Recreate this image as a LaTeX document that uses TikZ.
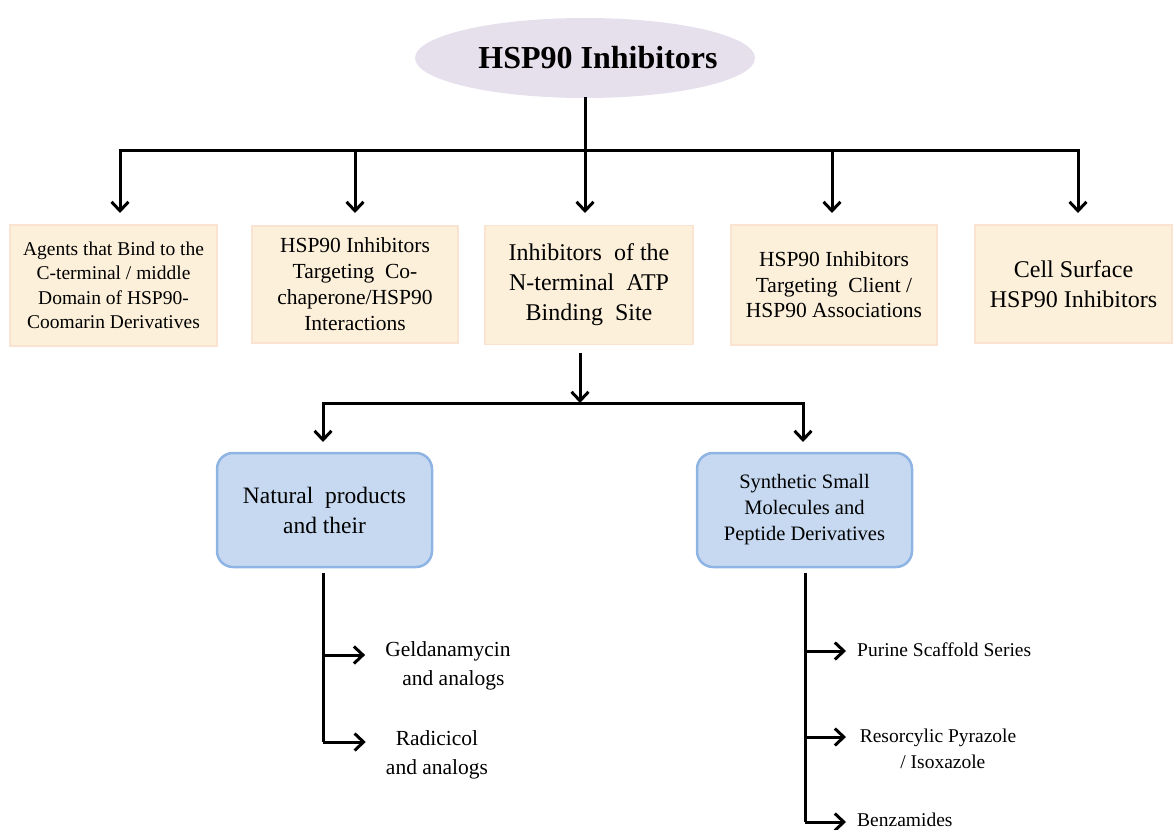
\documentclass[tikz,border=0pt]{standalone}
\usepackage{fontspec}
\setmainfont{Liberation Serif}
\usetikzlibrary{arrows.meta,shapes.geometric}
\definecolor{wheatfill}{HTML}{FCF0DA}
\definecolor{wheatline}{HTML}{FBE3D2}
\definecolor{bluefill}{HTML}{C6D9F1}
\definecolor{blueline}{HTML}{8EB4E3}
\definecolor{lilac}{HTML}{E6E0EC}

\begin{document}
\begin{tikzpicture}[x=1pt,y=-1pt,
    conn/.style={line width=3pt,line cap=rect},
    arr/.style={line width=3pt,-{Straight Barb[length=9pt,width=17pt]}},
    group/.style={draw=wheatline,line width=1.5pt,fill=wheatfill,align=center,inner sep=2pt},
    family/.style={draw=blueline,line width=2.5pt,fill=bluefill,rounded corners=16pt,align=center,minimum width=215pt,minimum height=114pt},
    item/.style={align=center,inner sep=0pt}]
    \useasboundingbox (0,0) rectangle (1173,830);
    % root
    \node[ellipse,fill=lilac,inner sep=0pt,minimum width=340pt,minimum height=80pt,font=\fontsize{32}{36}\selectfont\bfseries] (root) at (585,58) {\hspace*{13pt}HSP90 Inhibitors\hspace*{-13pt}};
    % first level
    \node[group,minimum width=207pt,minimum height=121pt,font=\fontsize{19.5}{24.5}\selectfont] (cterm) at (113.5,285.5) {Agents that Bind to the\\C-terminal / middle\\Domain of HSP90-\\Coomarin Derivatives};
    \node[group,minimum width=206pt,minimum height=117pt,font=\fontsize{21.5}{26}\selectfont] (cochap) at (355,284.5) {HSP90 Inhibitors\\Targeting\ \ Co-\\chaperone/HSP90\\Interactions};
    \node[group,minimum width=208pt,minimum height=119pt,font=\fontsize{24}{30}\selectfont] (nterm) at (589,285) {Inhibitors\ \ of the\\N-terminal\ \ ATP\\Binding\ \ Site};
    \node[group,minimum width=206pt,minimum height=120pt,font=\fontsize{21.5}{25.5}\selectfont] (client) at (834,285) {HSP90 Inhibitors\\Targeting\ \ Client /\\HSP90 Associations};
    \node[group,minimum width=197pt,minimum height=118pt,font=\fontsize{24}{30}\selectfont] (surf) at (1073.5,284) {Cell Surface\\HSP90 Inhibitors};
    \coordinate (bus) at (585,150);
    \coordinate (in1) at (120,213);
    \coordinate (in2) at (355,213);
    \coordinate (in3) at (585,213);
    \coordinate (in4) at (832,213);
    \coordinate (in5) at (1078,213);
    \draw[conn] (root.south) -- (bus);
    \draw[conn] (in1 |- bus) -- (in5 |- bus);
    \foreach \k in {in1,in2,in3,in4,in5}
        \draw[arr] (\k |- bus) -- (\k);
    % second level
    \node[family,font=\fontsize{23.5}{30}\selectfont] (natural) at (324.5,510) {Natural\ \ products\\and their};
    \node[family,font=\fontsize{20.5}{26}\selectfont] (synth) at (804.5,510) {Synthetic Small\\Molecules and\\Peptide Derivatives};
    \coordinate (drop) at (580,353);
    \coordinate (fork) at (580,403);
    \coordinate (inA) at (323,442);
    \coordinate (inB) at (803,442);
    \draw[arr] (drop) -- (fork);
    \draw[conn] (inA |- fork) -- (inB |- fork);
    \draw[arr] (inA |- fork) -- (inA);
    \draw[arr] (inB |- fork) -- (inB);
    % leaves
    \node[item,font=\fontsize{21.5}{29}\selectfont] (gelda) at (448,666) {Geldanamycin\\\ \ and analogs};
    \node[item,font=\fontsize{21.5}{29}\selectfont] (radi) at (437,755) {Radicicol\\and analogs};
    \node[item,anchor=west,font=\fontsize{19.5}{26}\selectfont] (purine) at (857,650) {Purine Scaffold Series};
    \node[item,font=\fontsize{19.5}{26}\selectfont] (resor) at (938,749) {Resorcylic Pyrazole\\\ \ / Isoxazole};
    \node[item,anchor=base west,font=\fontsize{19.5}{26}\selectfont] (benz) at (857,826) {Benzamides};
    \coordinate (stemA) at (323,573);
    \coordinate (stemB) at (805,573);
    \draw[conn,line cap=butt] (stemA) -- (stemA |- 0,742);
    \draw[conn,line cap=butt] (stemB) -- (stemB |- 0,822);
    \draw[arr] (stemA |- 0,655) -- ([xshift=-20pt]gelda.west |- 0,655);
    \draw[arr] (stemA |- 0,742) -- ([xshift=-20pt]radi.west |- 0,742);
    \draw[arr] (stemB |- 0,651) -- ([xshift=-11pt]purine.west |- 0,651);
    \draw[arr] (stemB |- 0,737) -- ([xshift=-11pt]purine.west |- 0,737);
    \draw[arr] (stemB |- 0,822) -- ([xshift=-11pt]benz.west |- 0,822);
\end{tikzpicture}
\end{document}
